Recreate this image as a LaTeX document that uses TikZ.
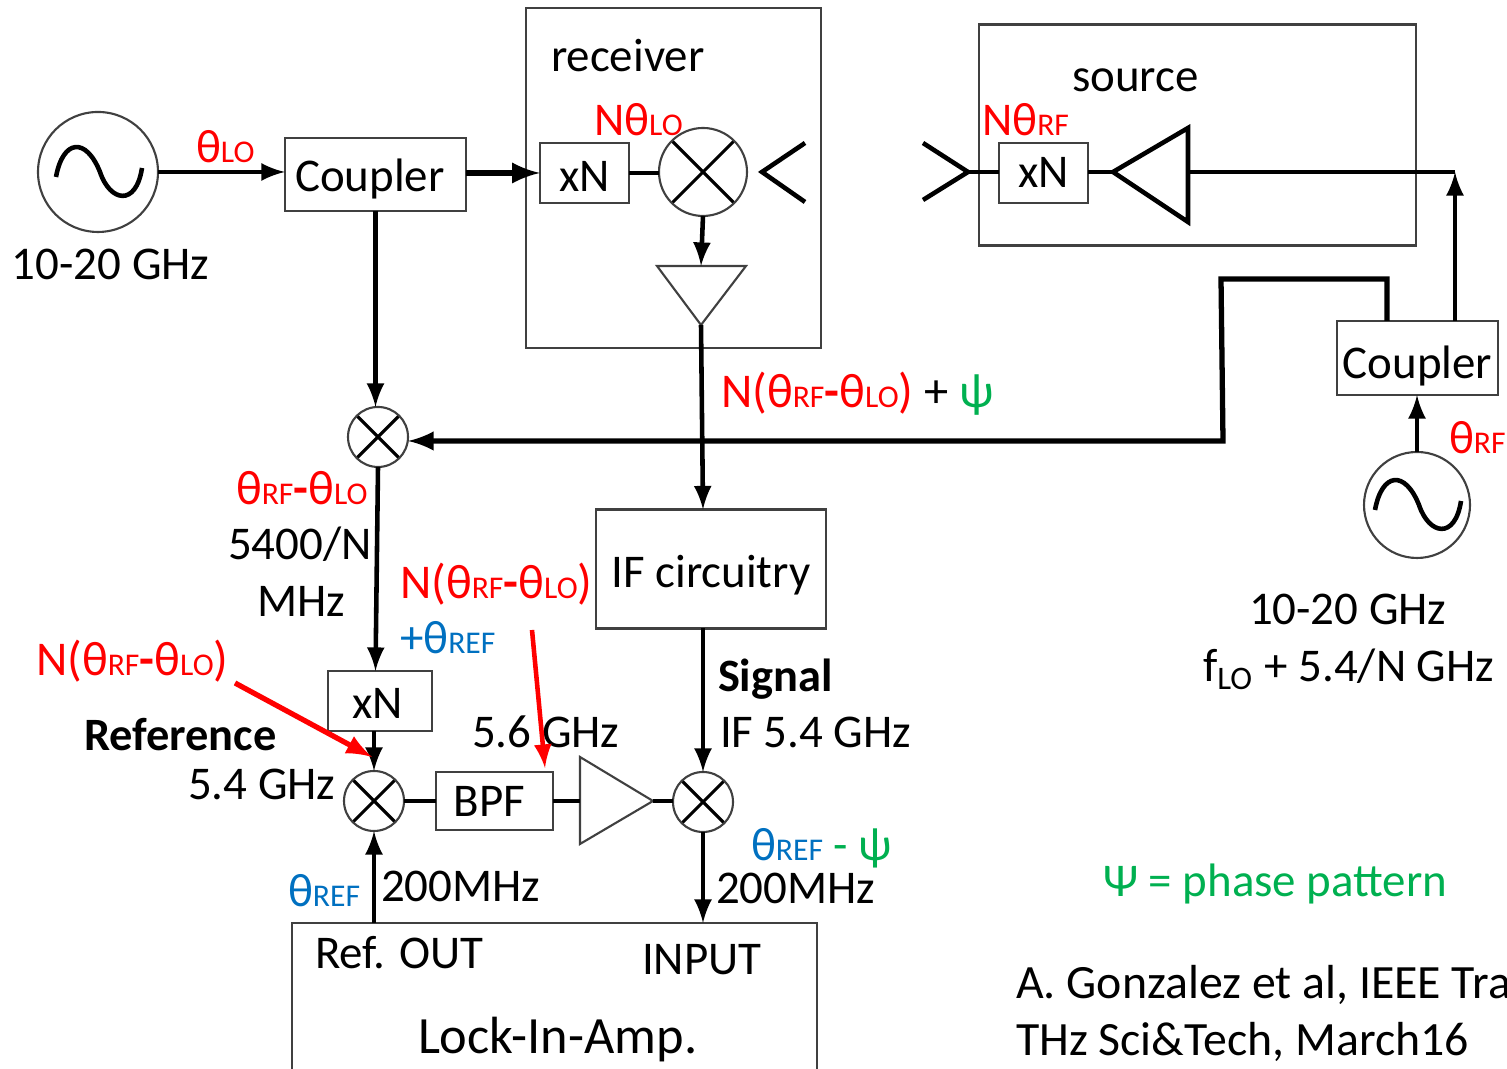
\documentclass[tikz,border=0pt]{standalone}
\usepackage{fontspec}
\setmainfont{Carlito}
\usepackage{tikz}
\usepackage{xcolor}
\definecolor{sigred}{RGB}{255,0,0}
\definecolor{refblue}{RGB}{0,112,192}
\definecolor{patgreen}{RGB}{0,176,80}
\newcommand{\low}[1]{{\fontsize{9}{9}\selectfont #1}}
\newcommand{\thlo}{θ\low{LO}}
\newcommand{\thrf}{θ\low{RF}}
\newcommand{\thref}{θ\low{REF}}
\newcommand{\thdiff}{\thrf\textbf{-}\thlo}
\newcommand{\bigger}{\fontsize{13.8}{15}\selectfont}

\begin{document}
\begin{tikzpicture}[font=\fontsize{13.35}{15}\selectfont,>=latex,
    box/.style={draw=black!75,line width=.6pt,inner sep=0pt,outer sep=0pt,text depth=0pt,text height=#1},
    box/.default=.3cm,
    wire/.style={line width=1.3pt},
    txt/.style={anchor=base west,inner sep=0pt,outer sep=0pt,yshift=-.02cm},
    mixer/.style={circle,draw=black!75,line width=.6pt,inner sep=0pt,outer sep=0pt,minimum size=#1,
      path picture={\draw[black,line width=.9pt] (path picture bounding box.north west) -- (path picture bounding box.south east)
        (path picture bounding box.north east) -- (path picture bounding box.south west);}},
    osc/.style={circle,draw=black!75,line width=.6pt,inner sep=0pt,outer sep=0pt,minimum size=#1cm,
      path picture={\draw[black,line width=1.3pt,shift={(path picture bounding box.center)},scale=#1/1.2]
        (-.42,-.05) .. controls (-.35,.33) and (-.12,.35) .. (.02,0) .. controls (.12,-.3) and (.38,-.35) .. (.44,.04);}}]
  \useasboundingbox (0,0) rectangle (15.07,10.69);
  % blocks
  \node[box,minimum width=2.95cm,minimum height=3.4cm] (rxbox) at (6.735,8.91) {};
  \node[box,minimum width=4.37cm,minimum height=2.21cm] (txbox) at (11.975,9.34) {};
  \node[osc=1.2] (lo) at (.98,8.97) {};
  \node[box=.35cm,minimum width=1.81cm,minimum height=.73cm] (couplerlo) at (3.755,8.945) {Coupler\kern.11cm};
  \node[box=.38cm,minimum width=.89cm,minimum height=.6cm] (xnrx) at (5.845,8.96) {xN};
  \node[mixer=.88cm] (mixrx) at (7.03,8.97) {};
  \node[box=.3cm,minimum width=.89cm,minimum height=.6cm] (xntx) at (10.435,8.96) {xN};
  \node[box=.42cm,minimum width=1.61cm,minimum height=.74cm] (couplerrf) at (14.175,7.11) {Coupler};
  \node[osc=1.06] (rf) at (14.17,5.64) {};
  \node[mixer=.6cm] (mixlo) at (3.78,6.32) {};
  \node[box=.37cm,minimum width=2.3cm,minimum height=1.19cm] (ifbox) at (7.11,5) {IF circuitry};
  \node[box=.36cm,minimum width=1.04cm,minimum height=.6cm] (xnref) at (3.8,3.68) {xN\kern.05cm};
  \node[mixer=.6cm] (mixref) at (3.74,2.68) {};
  \node[box=.32cm,minimum width=1.17cm,minimum height=.58cm] (bpf) at (4.945,2.68) {BPF\kern.1cm};
  \node[mixer=.6cm] (mixsig) at (7.03,2.67) {};
  \node[box,minimum width=5.25cm,minimum height=1.6cm] (lockin) at (5.545,.66) {};
  % amplifiers and horns
  \coordinate (amprxa) at (6.57,8.03); \coordinate (amprxb) at (7.46,8.03); \coordinate (amprxtip) at (7.01,7.44);
  \coordinate (amprxin) at (7.01,8.03);
  \draw[draw=black!75,line width=.6pt] (amprxa) -- (amprxb) -- (amprxtip) -- cycle;
  \coordinate (amptxa) at (11.88,9.41); \coordinate (amptxb) at (11.88,8.47); \coordinate (amptxtip) at (11.13,8.97);
  \coordinate (amptxin) at (11.88,8.97);
  \draw[wire] (amptxa) -- (amptxb) -- (amptxtip) -- cycle;
  \coordinate (ampifa) at (5.8,3.12); \coordinate (ampifb) at (5.8,2.25); \coordinate (ampiftip) at (6.53,2.68);
  \coordinate (ampifin) at (5.8,2.68);
  \draw[draw=black!75,line width=.6pt] (ampifa) -- (ampifb) -- (ampiftip) -- cycle;
  \coordinate (hornrxa) at (8.05,9.26); \coordinate (hornrxb) at (8.05,8.67); \coordinate (hornrxtip) at (7.62,8.97);
  \draw[wire] (hornrxa) -- (hornrxtip) -- (hornrxb);
  \coordinate (horntxa) at (9.23,9.26); \coordinate (horntxb) at (9.23,8.69); \coordinate (horntxtip) at (9.68,8.97);
  \draw[wire] (horntxa) -- (horntxtip) -- (horntxb);
  % wires
  \draw[wire,->] (lo) -- (couplerlo.west |- lo);
  \draw[wire,->,line width=1.7pt] (couplerlo.east |- xnrx) -- (xnrx.west);
  \draw[wire] (xnrx.east) -- (xnrx.east -| mixrx.west);
  \draw[wire,->] (mixrx.south) -- (amprxin);
  \draw[wire,->] (amprxtip) -- (ifbox.north -| mixsig);
  \draw[wire,->] (couplerlo.south) -- (mixlo.north -| couplerlo.south);
  \draw[wire] (horntxtip) -- (xntx.west |- horntxtip);
  \draw[wire] (xntx.east |- amptxtip) -- (amptxtip);
  \coordinate (rfbendc) at (14.55,8.97);
  \draw[wire] (amptxin) -- (rfbendc);
  \draw[wire,->] (couplerrf.north -| rfbendc) -- (rfbendc);
  \draw[wire,->] (rf.north) -- (rf.north |- couplerrf.south);
  \coordinate (tapa) at (13.87,7.9); \coordinate (tapb) at (12.21,7.9); \coordinate (tapc) at (12.23,6.28);
  \draw[wire,->,line width=1.5pt] (couplerrf.north -| tapa) -- (tapa) -- (tapb) -- (tapc) -- (mixlo.east |- tapc);
  \draw[wire,->] (mixlo.south) -- (xnref.north -| couplerlo.south);
  \draw[wire,->] (xnref.south -| mixref) -- (mixref.north);
  \draw[wire] (mixref.east) -- (bpf.west);
  \draw[wire] (bpf.east) -- (ampifin);
  \draw[wire] (ampiftip) -- (ampiftip -| mixsig.west);
  \draw[wire,->] (ifbox.south -| mixsig) -- (mixsig.north);
  \draw[wire,->] (mixsig.south) -- (mixsig.south |- lockin.north);
  \draw[wire,->] (mixref.south |- lockin.north) -- (mixref.south);
  % labels
  \node[txt] (lblrx) at (5.51,9.99) {receiver};
  \node[txt] (lblsrc) at (10.72,9.79) {source};
  \node[txt,text=sigred] (lblthlo) at (1.96,9.08) {\thlo};
  \node[txt,text=sigred] (lblnlo) at (5.94,9.35) {N\thlo};
  \node[txt,text=sigred] (lblnrf) at (9.82,9.35) {N\thrf};
  \node[txt] (lblfa) at (.12,7.91) {10-20 GHz};
  \node[txt] (lblpm) at (7.21,6.63) {\bigger\textcolor{sigred}{N(\thdiff)} + \textcolor{patgreen}{ψ}};
  \node[txt,text=sigred] (lblthrf) at (14.49,6.17) {\thrf};
  \node[txt,text=sigred] (lbldiff) at (2.36,5.66) {\bigger\thdiff};
  \node[txt] (lblfif) at (2.28,5.11) {5400/N};
  \node[txt] (lblmhz) at (2.57,4.54) {MHz};
  \node[txt,text=sigred] (lblnmid) at (4,4.72) {\bigger N(\thdiff)};
  \node[txt,text=refblue] (lblpref) at (4,4.17) {+\thref};
  \node[txt,text=sigred] (lblnleft) at (.36,3.95) {\bigger N(\thdiff)};
  \node[txt,font=\fontsize{13.2}{15}\selectfont\bfseries] (lblref) at (.84,3.2) {Reference};
  \node[txt] (lblfref) at (1.88,2.71) {5.4 GHz};
  \node[txt] (lblfbpf) at (4.72,3.23) {5.6 GHz};
  \node[txt,font=\fontsize{13.2}{15}\selectfont\bfseries] (lblsig) at (7.18,3.79) {Signal};
  \node[txt] (lblfsig) at (7.2,3.23) {IF 5.4 GHz};
  \node[txt] (lblrefpsi) at (7.51,2.1) {\textcolor{refblue}{\thref} \textcolor{patgreen}{- ψ}};
  \node[txt] (lbl200r) at (7.16,1.67) {200MHz};
  \node[txt,text=refblue] (lblthref) at (2.88,1.64) {\thref};
  \node[txt] (lbl200l) at (3.81,1.69) {200MHz};
  \node[txt] (lblout) at (3.15,1.02) {Ref. OUT};
  \node[txt] (lblin) at (6.42,.96) {INPUT};
  \node[txt,font=\fontsize{14.9}{17}\selectfont] (lbllia) at (4.18,.17) {Lock-In-Amp.};
  \node[txt] (lblfb) at (12.49,4.46) {10-20 GHz};
  \node[txt] (lblflo) at (12.03,3.89) {f\textsubscript{LO} + 5.4/N GHz};
  \node[txt,text=patgreen] (lblpat) at (11.03,1.74) {Ψ = phase pattern};
  \node[txt,font=\fontsize{13.6}{15}\selectfont] (lblcitea) at (10.16,.72) {A. Gonzalez et al, IEEE Tra};
  \node[txt,font=\fontsize{13.6}{15}\selectfont] (lblciteb) at (10.16,.15) {THz Sci\&Tech, March16};
  % red pointers
  \coordinate (ptra) at (2.35,3.86); \coordinate (ptrb) at (5.32,4.39);
  \coordinate (ptrc) at (5.45,3.01); \coordinate (ptrd) at (3.72,3.12);
  \draw[->,sigred,line width=1.5pt] (ptra) -- (ptrd);
  \draw[->,sigred,line width=1.3pt] (ptrb) -- (ptrc);
\end{tikzpicture}
\end{document}
